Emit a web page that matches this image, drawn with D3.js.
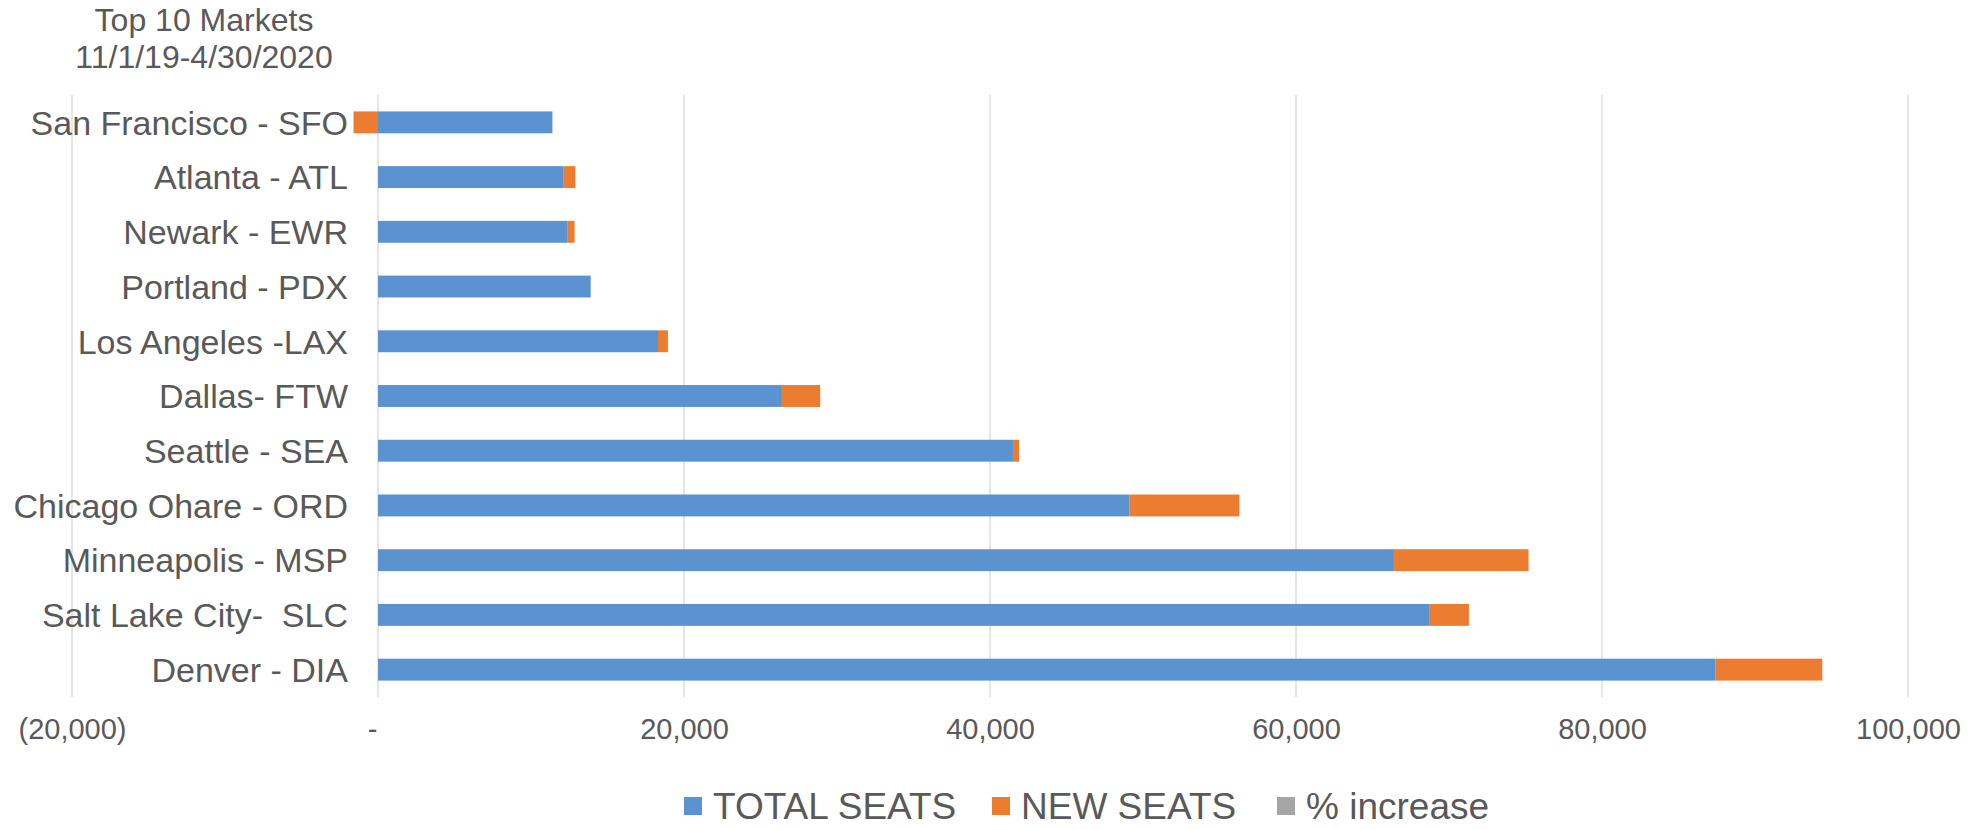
<!DOCTYPE html>
<html>
<head>
<meta charset="utf-8">
<script src="https://cdn.jsdelivr.net/npm/d3@7"></script>
<style>
  body { margin: 0; background: #fff; }
  svg { display: block; font-family: "Liberation Sans", Arial, sans-serif; }
  text { white-space: pre; }
</style>
</head>
<body>
<svg id="chart" width="1970" height="830"></svg>
<script>
// data
const markets = ["San Francisco - SFO", "Atlanta - ATL", "Newark - EWR", "Portland - PDX",
  "Los Angeles -LAX", "Dallas- FTW", "Seattle - SEA", "Chicago Ohare - ORD",
  "Minneapolis - MSP", "Salt Lake City-  SLC", "Denver - DIA"];
const totalSeats = [11400, 12100, 12400, 13900, 18300, 26400, 41500, 49100, 66400, 68700, 87400];
const newSeats = [-1600, 800, 450, 0, 650, 2500, 400, 7200, 8800, 2600, 7000];
const pctIncrease = [-0.14, 0.07, 0.04, 0, 0.04, 0.09, 0.01, 0.15, 0.13, 0.04, 0.08];
const seriesNames = ["TOTAL SEATS", "NEW SEATS", "% increase"];
const seriesColors = ["#5b93d0", "#ec7c30", "#a5a5a5"];
const tickValues = [-20000, 0, 20000, 40000, 60000, 80000, 100000];
const tickLabels = ["(20,000)", "-", "20,000", "40,000", "60,000", "80,000", "100,000"];
const titleLines = ["Top 10 Markets", "11/1/19-4/30/2020"];

const textColor = "#595959";
const svg = d3.select("#chart");

const x = d3.scaleLinear().domain([-20000, 100000]).range([72, 1908]);
const y = d3.scaleBand().domain(markets).range([95, 697]).paddingInner(0.6).paddingOuter(0.3);

// table for stacking
const rows = markets.map((m, i) => ({
  market: m,
  "TOTAL SEATS": totalSeats[i],
  "NEW SEATS": newSeats[i],
  "% increase": pctIncrease[i]
}));
const stacked = d3.stack().keys(seriesNames).offset(d3.stackOffsetDiverging)(rows);

// gridlines
svg.append("g")
  .selectAll("line")
  .data(tickValues)
  .join("line")
  .attr("x1", d => x(d)).attr("x2", d => x(d))
  .attr("y1", 95).attr("y2", 697)
  .attr("stroke", "#dcdcdc")
  .attr("stroke-width", 1.5);

// bars
svg.append("g")
  .selectAll("g")
  .data(stacked)
  .join("g")
  .attr("fill", (d, i) => seriesColors[i])
  .selectAll("rect")
  .data(d => d)
  .join("rect")
  .attr("x", d => x(Math.min(d[0], d[1])))
  .attr("width", d => Math.abs(x(d[1]) - x(d[0])))
  .attr("y", d => y(d.data.market))
  .attr("height", y.bandwidth());

// x axis labels
const xAxis = d3.axisBottom(x)
  .tickValues(tickValues)
  .tickFormat((d, i) => tickLabels[i])
  .tickSize(0)
  .tickPadding(0);
const gx = svg.append("g")
  .attr("transform", "translate(0,718)")
  .call(xAxis);
gx.select(".domain").remove();
gx.selectAll("text")
  .attr("font-size", 29)
  .attr("font-family", "Liberation Sans, Arial, sans-serif")
  .attr("fill", textColor)
  .attr("dy", "0.71em")
  .attr("dx", d => d === 0 ? -6 : 0);

// category labels
const yAxis = d3.axisLeft(y).tickSize(0).tickPadding(0);
const gy = svg.append("g")
  .attr("transform", "translate(348,0)")
  .call(yAxis);
gy.select(".domain").remove();
gy.selectAll("text")
  .attr("font-size", 34)
  .attr("font-family", "Liberation Sans, Arial, sans-serif")
  .attr("fill", textColor)
  .attr("dy", "0.36em");

// title
svg.append("g")
  .selectAll("text")
  .data(titleLines)
  .join("text")
  .attr("x", 204)
  .attr("y", (d, i) => 31 + i * 37)
  .attr("text-anchor", "middle")
  .attr("font-size", 32)
  .attr("fill", textColor)
  .text(d => d);

// legend
const legendX = [684, 992, 1277];
const legend = svg.append("g")
  .selectAll("g")
  .data(seriesNames)
  .join("g")
  .attr("transform", (d, i) => `translate(${legendX[i]},819)`);
legend.append("rect")
  .attr("x", 0).attr("y", -22)
  .attr("width", 18).attr("height", 18)
  .attr("fill", (d, i) => seriesColors[i]);
legend.append("text")
  .attr("x", 29)
  .attr("font-size", 37)
  .attr("fill", textColor)
  .text(d => d);
</script>
</body>
</html>
